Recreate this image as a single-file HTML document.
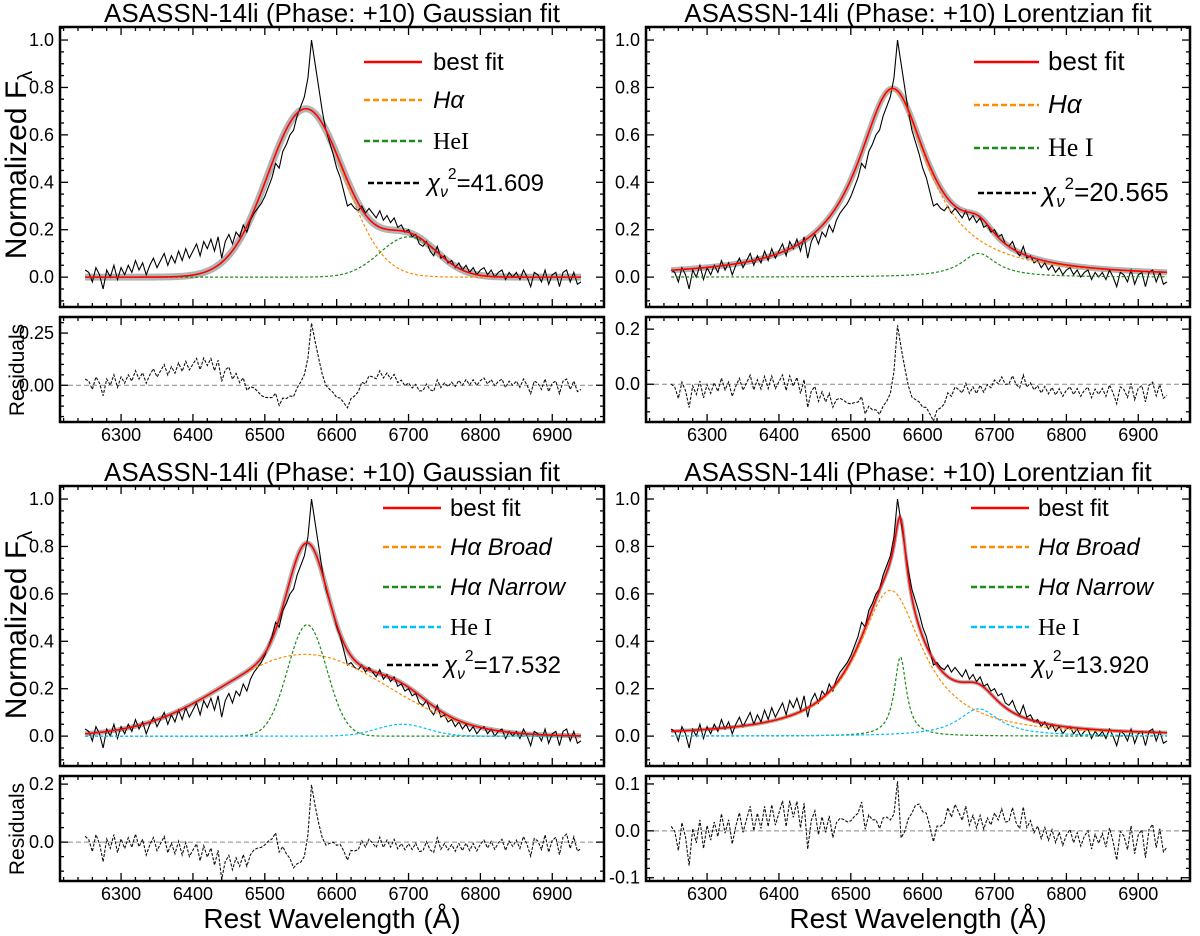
<!DOCTYPE html>
<html><head><meta charset="utf-8">
<style>
html,body{margin:0;padding:0;background:#fff;}
svg{display:block;font-family:"Liberation Sans",sans-serif;}
</style></head>
<body>
<svg id="fig" width="1200" height="936" viewBox="0 0 1200 936" xmlns="http://www.w3.org/2000/svg"></svg>
<script>
// ---- data ----
const obsStart = 6250;
const obsStep = 5;
const obsFlux = [
0.03,0.02,-0.02,0.04,0.01,-0.05,0.03,0.00,0.05,-0.01,
0.04,0.01,0.05,0.02,0.07,0.03,0.06,0.01,0.05,0.08,
0.04,0.07,0.10,0.05,0.09,0.06,0.11,0.07,0.12,0.08,
0.11,0.14,0.09,0.15,0.12,0.16,0.11,0.17,0.08,0.15,
0.18,0.14,0.19,0.17,0.22,0.19,0.24,0.27,0.29,0.31,
0.34,0.38,0.42,0.48,0.46,0.53,0.56,0.60,0.62,0.68,
0.72,0.76,0.84,1.00,0.90,0.80,0.70,0.62,0.57,0.52,
0.46,0.42,0.36,0.30,0.31,0.29,0.28,0.30,0.27,0.29,
0.27,0.25,0.28,0.24,0.26,0.23,0.25,0.21,0.22,0.19,
0.20,0.17,0.18,0.14,0.13,0.15,0.11,0.09,0.13,0.08,
0.09,0.06,0.07,0.04,0.06,0.03,0.05,0.02,0.04,0.01,
0.03,0.04,0.01,0.03,0.00,0.02,0.03,-0.01,0.02,0.00,
0.02,-0.01,0.03,0.00,-0.04,0.02,0.01,-0.02,0.03,-0.03,
0.01,0.02,-0.04,0.02,0.03,-0.02,0.02,-0.03,-0.02
];
// model component params: [amplitude, center, width]
const tlHalpha = [0.71, 6557, 53];
const tlHeI = [0.17, 6700, 40];
const trHalpha = [0.79, 6558, 60];
const trHeI = [0.10, 6678, 30];
const blBroad = [0.345, 6556, 115];
const blNarrow = [0.47, 6559, 27];
const blHeI = [0.05, 6691, 35];
const brBroad = [0.615, 6555, 55];
const brNarrow = [0.335, 6569, 10];
const brHeI = [0.115, 6678, 35];
const chiValues = ["41.609","20.565","17.532","13.920"];
const xTicks = [6300,6400,6500,6600,6700,6800,6900];
const mainYTicks = [0.0,0.2,0.4,0.6,0.8,1.0];
const tlResTicks = [0.00,0.25];
const trResTicks = [0.0,0.2];
const blResTicks = [0.0,0.2];
const brResTicks = [-0.1,0.0,0.1];

const NS="http://www.w3.org/2000/svg";
const svg=document.getElementById('fig');
function mk(tag,attrs,parent){const e=document.createElementNS(NS,tag);for(const k in attrs)e.setAttribute(k,attrs[k]);(parent||svg).appendChild(e);return e;}
function gauss(p,x){return p[0]*Math.exp(-(x-p[1])*(x-p[1])/(2*p[2]*p[2]));}
function lor(p,x){const t=(x-p[1])/p[2];return p[0]/(1+t*t);}
const X0=6215,X1=6972;

function makeScale(d0,d1,r0,r1){return v=>r0+(v-d0)/(d1-d0)*(r1-r0);}

function ticksAxes(g,px0,px1,py0,py1,xs,ys,minorX,ys0,ys1,majorY,minorY){
  for(let w=6220;w<=6960;w+=minorX){
    const x=xs(w);const maj=(w%100===0);const L=maj?8:4;
    mk('line',{x1:x,x2:x,y1:py1,y2:py1-L,stroke:'#000','stroke-width':1.3},g);
    mk('line',{x1:x,x2:x,y1:py0,y2:py0+L,stroke:'#000','stroke-width':1.3},g);
  }
  const n0=Math.ceil(ys0/minorY-1e-6),n1=Math.floor(ys1/minorY+1e-6);
  for(let i=n0;i<=n1;i++){
    const v=i*minorY;const y=ys(v);
    const r=Math.abs(v/majorY-Math.round(v/majorY))<1e-6;const L=r?8:4;
    mk('line',{x1:px0,x2:px0+L,y1:y,y2:y,stroke:'#000','stroke-width':1.3},g);
    mk('line',{x1:px1,x2:px1-L,y1:y,y2:y,stroke:'#000','stroke-width':1.3},g);
  }
}
function pathFrom(fn,xs,ys,a,b,step){let d='';for(let w=a;w<=b+1e-6;w+=step){d+=(d?'L':'M')+xs(w).toFixed(2)+','+ys(fn(w)).toFixed(2);}return d;}

const panels=[
 {key:'tl',title:'ASASSN-14li (Phase: +10) Gaussian fit',px0:60,px1:604,top:27,type:'g',comps:[[tlHalpha,'#ff8c00'],[tlHeI,'#1a8c1a']],res:[-0.176,0.327],resTicks:tlResTicks,resMaj:0.25,resMin:0.05,resFmt:2,
  legend:{lx0:364,lx1:422,tx:433,ys:[62,100,141,183],fs:24,items:[['best fit','#ff0000','solid','sans'],['Hα','#ff8c00','dash','ital'],['HeI','#1a8c1a','dash','serif']]},chi:0,band:7},
 {key:'tr',title:'ASASSN-14li (Phase: +10) Lorentzian fit',px0:646,px1:1190,top:27,type:'l',comps:[[trHalpha,'#ff8c00'],[trHeI,'#1a8c1a']],res:[-0.137,0.244],resTicks:trResTicks,resMaj:0.2,resMin:0.05,resFmt:1,
  legend:{lx0:974,lx1:1039,tx:1048,ys:[62,105,148,193],fs:26,items:[['best fit','#ff0000','solid','sans'],['Hα','#ff8c00','dash','ital'],['He I','#1a8c1a','dash','serif']]},chi:1,band:6},
 {key:'bl',title:'ASASSN-14li (Phase: +10) Gaussian fit',px0:60,px1:604,top:486,type:'g',comps:[[blBroad,'#ff8c00'],[blNarrow,'#1a8c1a'],[blHeI,'#00bfff']],res:[-0.134,0.228],resTicks:blResTicks,resMaj:0.2,resMin:0.05,resFmt:1,
  legend:{lx0:383,lx1:441,tx:450,ys:[508,547,587,627,665],fs:24,items:[['best fit','#ff0000','solid','sans'],['Hα Broad','#ff8c00','dash','ital'],['Hα Narrow','#1a8c1a','dash','ital'],['He I','#00bfff','dash','serif']]},chi:2,band:5},
 {key:'br',title:'ASASSN-14li (Phase: +10) Lorentzian fit',px0:646,px1:1190,top:486,type:'l',comps:[[brBroad,'#ff8c00'],[brNarrow,'#1a8c1a'],[brHeI,'#00bfff']],res:[-0.107,0.117],resTicks:brResTicks,resMaj:0.1,resMin:0.02,resFmt:1,
  legend:{lx0:971,lx1:1029,tx:1038,ys:[508,547,587,627,665],fs:24,items:[['best fit','#ff0000','solid','sans'],['Hα Broad','#ff8c00','dash','ital'],['Hα Narrow','#1a8c1a','dash','ital'],['He I','#00bfff','dash','serif']]},chi:3,band:4}
];

const nObs=obsFlux.length;
panels.forEach(P=>{
  const g=mk('g',{});
  
  
  const mTop=P.top,mBot=P.top+280,rTop=P.top+290,rBot=P.top+395;
  const xs=makeScale(X0,X1,P.px0,P.px1);
  const ys=makeScale(-0.126,1.055,mBot,mTop);
  const rs=makeScale(P.res[0],P.res[1],rBot,rTop);
  const f=P.type==='g'?gauss:lor;
  const model=w=>P.comps.reduce((s,c)=>s+f(c[0],w),0);
  const cx=(P.px0+P.px1)/2;
  const t=mk('text',{x:cx,y:P.top-5,'text-anchor':'middle','font-size':26},g);
  t.textContent=P.title;
  
  const cid='clip'+P.key;
  const cp=mk('clipPath',{id:cid},g);mk('rect',{x:P.px0,y:mTop,width:P.px1-P.px0,height:280},cp);
  const cid2='clipr'+P.key;
  const cp2=mk('clipPath',{id:cid2},g);mk('rect',{x:P.px0,y:rTop,width:P.px1-P.px0,height:105},cp2);
  const mg=mk('g',{'clip-path':'url(#'+cid+')'},g);
  let d='';for(let i=0;i<nObs;i++){d+=(i?'L':'M')+xs(obsStart+i*obsStep).toFixed(2)+','+ys(obsFlux[i]).toFixed(2);}
  const band=mk('path',{d:pathFrom(model,xs,ys,6250,6940,2),fill:'none',stroke:'#9a9a9a','stroke-opacity':0.75,'stroke-width':P.band,'stroke-linejoin':'round'},mg);
  
  const ob=mk('path',{d:d,fill:'none',stroke:'#000','stroke-width':1.1},mg);
  
  P.comps.forEach((c,ci)=>{
    const cpth=mk('path',{d:pathFrom(w=>f(c[0],w),xs,ys,6250,6940,2),fill:'none',stroke:c[1],'stroke-width':1.2,'stroke-dasharray':'3,2'},mg);
    
  });
  const bf=mk('path',{d:pathFrom(model,xs,ys,6250,6940,2),fill:'none',stroke:'#ff0000','stroke-width':1.6},mg);
  
  ticksAxes(g,P.px0,P.px1,mTop,mBot,xs,ys,20,-0.126,1.055,0.2,0.05);
  const fr=mk('rect',{x:P.px0,y:mTop,width:P.px1-P.px0,height:280,fill:'none',stroke:'#000','stroke-width':2.5},g);
  
  mainYTicks.forEach(v=>{const tl=mk('text',{x:P.px0-6,y:ys(v)+6,'text-anchor':'end','font-size':18},g);tl.textContent=v.toFixed(1);
    });
  const rg=mk('g',{'clip-path':'url(#'+cid2+')'},g);
  mk('line',{x1:P.px0,x2:P.px1,y1:rs(0),y2:rs(0),stroke:'#888','stroke-width':1,'stroke-dasharray':'5,3'},rg);
  let rd='';for(let i=0;i<nObs;i++){const w=obsStart+i*obsStep;rd+=(i?'L':'M')+xs(w).toFixed(2)+','+rs(obsFlux[i]-model(w)).toFixed(2);}
  const rp=mk('path',{d:rd,fill:'none',stroke:'#111','stroke-width':1.1,'stroke-dasharray':'3,1.5'},rg);
  
  ticksAxes(g,P.px0,P.px1,rTop,rBot,xs,rs,20,P.res[0],P.res[1],P.resMaj,P.resMin);
  const rf=mk('rect',{x:P.px0,y:rTop,width:P.px1-P.px0,height:105,fill:'none',stroke:'#000','stroke-width':2.5},g);
  
  P.resTicks.forEach(v=>{const tl=mk('text',{x:P.px0-6,y:rs(v)+6,'text-anchor':'end','font-size':18},g);tl.textContent=v.toFixed(P.resFmt);
    });
  xTicks.forEach(v=>{const tl=mk('text',{x:xs(v),y:rBot+19,'text-anchor':'middle','font-size':18},g);tl.textContent=v;
    });
  const L=P.legend;
  const lg=mk('g',{},g);
  L.items.forEach((it,i)=>{
    const y=L.ys[i];
    const ln=mk('line',{x1:L.lx0,x2:L.lx1,y1:y,y2:y,stroke:it[1],'stroke-width':2.5},lg);
    if(it[2]==='dash')ln.setAttribute('stroke-dasharray','6,3');
    const tx=mk('text',{x:L.tx,y:y+8,'font-size':L.fs},lg);
    if(it[3]==='ital')tx.setAttribute('font-style','italic');
    if(it[3]==='serif')tx.setAttribute('font-family','"Liberation Serif",serif');
    tx.textContent=it[0];
    
  });
  const yc=L.ys[L.ys.length-1];
  mk('line',{x1:L.lx0+4,x2:L.lx1-3,y1:yc,y2:yc,stroke:'#000','stroke-width':2.5,'stroke-dasharray':'6,3'},lg);
  const ct=mk('text',{x:L.tx-6,y:yc+8,'font-size':L.fs},lg);
  ct.innerHTML='<tspan font-style="italic">χ</tspan><tspan font-style="italic" font-size="'+(L.fs*0.65)+'" dy="6">ν</tspan><tspan font-size="'+(L.fs*0.65)+'" dy="-18">2</tspan><tspan dy="12">='+chiValues[P.chi]+'</tspan>';
  
});
[[165],[625]].forEach(r=>{
  const t=mk('text',{transform:'translate(26,'+r[0]+') rotate(-90)','text-anchor':'middle','font-size':30});
  t.innerHTML='Normalized F<tspan font-size="20" dy="6">λ</tspan>';
  
});
[[370],[829]].forEach(r=>{
  const t=mk('text',{transform:'translate(24,'+r[0]+') rotate(-90)','text-anchor':'middle','font-size':21});
  t.textContent='Residuals';
  
});
[[332],[918]].forEach(r=>{
  const t=mk('text',{x:r[0],y:928,'text-anchor':'middle','font-size':28});
  t.textContent='Rest Wavelength (Å)';
  
});
</script>
</body></html>
